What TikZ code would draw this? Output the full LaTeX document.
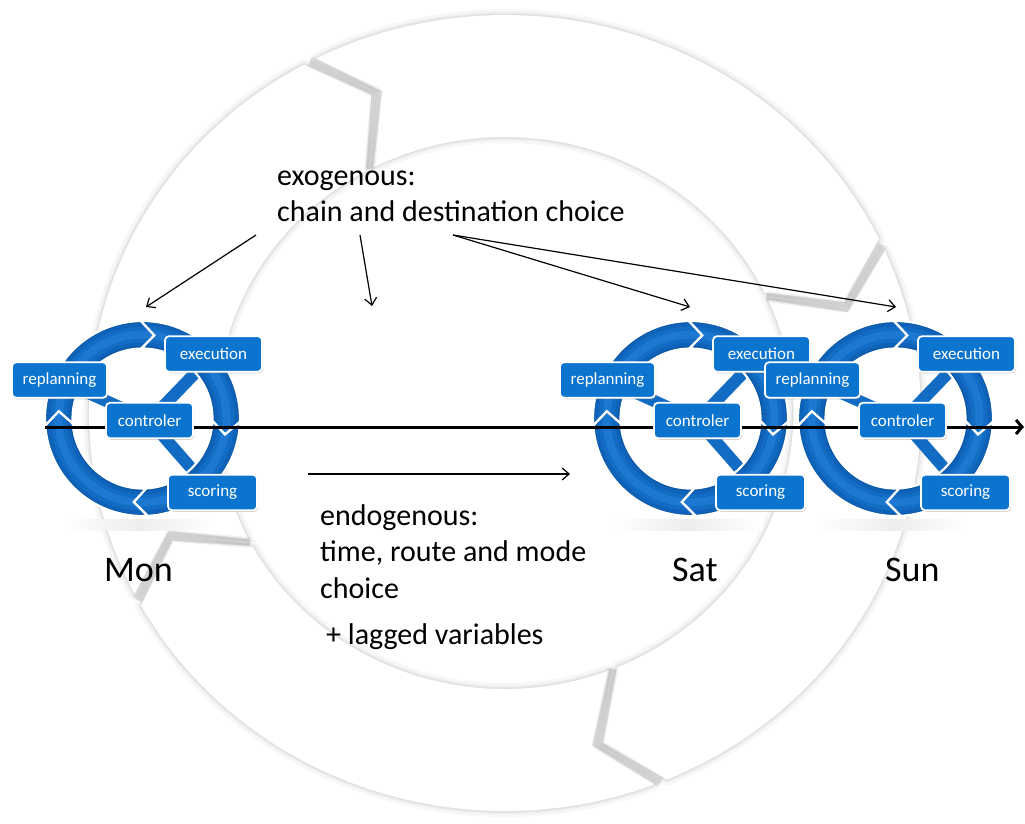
\documentclass[tikz,border=0pt]{standalone}
\usepackage{fontspec}
\setmainfont{Carlito}
\usetikzlibrary{arrows.meta,shadows}
\pgfdeclarelayer{back}
\pgfdeclarelayer{mid}
\pgfdeclarelayer{axis}
\pgfsetlayers{back,mid,axis,main}
\definecolor{rdark}{RGB}{10,86,166}
\definecolor{rmid1}{RGB}{14,98,184}
\definecolor{rmid}{RGB}{18,108,196}
\definecolor{rlight}{RGB}{28,120,208}
\definecolor{boxblue}{RGB}{10,116,206}

% big background ring segment: style, tail angle, head angle
\newcommand{\bigseg}[3]{%
  \path[#1] ({#2-0.9}:398) arc[start angle={#2-0.9}, end angle={#3+0.9}, radius=398]
    -- ({#3+0.9-7}:343) -- ({#3+0.9}:276)
    arc[start angle={#3+0.9}, end angle={#2-0.9}, radius=276]
    -- ({#2-0.9-7}:343) -- cycle;}
% gap line between two big segments at boundary angle
\newcommand{\biggap}[2]{%
  \path[#1] ({#2}:398) -- ({#2-7}:343) -- ({#2}:276);}

% blue ring segment: tail angle, head angle
\newcommand{\blueseg}[2]{%
  \begin{scope}
    \clip ({#1}:97.5) arc[start angle={#1}, end angle={#2}, radius=97.5]
      -- ({#2-9}:84) -- ({#2}:70) arc[start angle={#2}, end angle={#1}, radius=70]
      -- ({#1-9}:84) -- cycle;
    \fill[rdark] (0,0) circle (99);
    \draw[rmid1, line width=23pt] (0,0) circle (84);
    \draw[rmid, line width=16pt] (0,0) circle (84);
    \draw[rlight, line width=8pt] (0,0) circle (84);
  \end{scope}
  \draw[white, line width=2.2pt] ({#1}:97.5) arc[start angle={#1}, end angle={#2}, radius=97.5]
      -- ({#2-9}:84) -- ({#2}:70) arc[start angle={#2}, end angle={#1}, radius=70]
      -- ({#1-9}:84) -- cycle;}

% one day cycle: prefix, ring centre x
\newcommand{\dayring}[2]{%
  \node[box, minimum width=95pt] (#1rep) at ({#2-83},380) {replanning};
  \node[box, minimum width=97pt] (#1exe) at ({#2+71},354) {execution};
  \node[box, minimum width=87pt] (#1ctl) at ({#2+7},420.5) {controler};
  \node[box, minimum width=89pt] (#1sco) at ({#2+70},492.5) {scoring};
  \begin{pgfonlayer}{mid}
    \shade[left color=white, right color=white, middle color=gray!14]
      ({#2-78},519) rectangle ({#2+72},530);
    \draw[bar] (#1ctl.center) -- (#1exe.center);
    \draw[bar] (#1ctl.center) -- (#1sco.center);
    \draw[bar] (#1ctl.center) -- (#1rep.center);
    \begin{scope}[shift={(#2,418.5)}, yscale=-1]
      \blueseg{91}{-2}\blueseg{-2}{-87}\blueseg{-87}{-176}\blueseg{184}{91}
    \end{scope}
  \end{pgfonlayer}}

\begin{document}
\begin{tikzpicture}[x=1pt,y=-1pt,
  box/.style={rounded corners=4pt, fill=boxblue, draw=white, line width=1.8pt,
    text=white, font=\fontsize{17}{20}\selectfont, minimum height=35.5pt, inner sep=0pt,
    drop shadow={shadow xshift=1.2pt, shadow yshift=-1.5pt, opacity=0.35}},
  bar/.style={line width=12pt, rmid},
  ptr/.style={line width=1.2pt, -{Straight Barb[length=7pt,width=12pt]}},
  lbl/.style={anchor=base west, inner sep=0pt, font=\fontsize{30}{36}\selectfont},
  day/.style={anchor=base west, inner sep=0pt, font=\fontsize{36}{43}\selectfont},
]
\useasboundingbox (0,0) rectangle (1025,824);

\begin{pgfonlayer}{back}
  \fill[white] (0,0) rectangle (1025,824);
  \begin{scope}[shift={(505,413)}, xscale=1.045, yscale=-1]
    \foreach \a/\b in {118/25, 25/-68, -68/-152, 208/118} {
      \bigseg{draw=black, draw opacity=0.03, line width=12pt, line join=round}{\a}{\b}
      \bigseg{draw=black, draw opacity=0.045, line width=6pt, line join=round}{\a}{\b}
      \bigseg{draw=black, draw opacity=0.05, line width=2.5pt, line join=round}{\a}{\b}
    }
    \foreach \a/\b in {118/25, 25/-68, -68/-152, 208/118} {
      \bigseg{fill=white}{\a}{\b}
    }
    \foreach \g in {118, 25, -68, -152} {
      \biggap{draw=black, draw opacity=0.06, line width=11pt, line join=round}{\g}
      \biggap{draw=black, draw opacity=0.07, line width=6pt, line join=round}{\g}
    }
  \end{scope}
\end{pgfonlayer}

\dayring{mon}{142.5}
\dayring{sat}{690.5}
\dayring{sun}{895.5}

\coordinate (axS) at (45,427);
\coordinate (axE) at (1024,427);
\begin{pgfonlayer}{axis}
  \draw[line width=3pt, -{Straight Barb[length=6pt,width=14pt]}] (axS) -- (axE);
\end{pgfonlayer}

\node[lbl] (exo1) at (277,185) {exogenous:};
\node[lbl] (exo2) at (277,221) {chain and destination choice};
\node[lbl] (endo1) at (320,525) {endogenous:};
\node[lbl] (endo2) at (320,561) {time, route and mode};
\node[lbl] (endo3) at (320,598) {choice};
\node[lbl] (lag) at (326,644) {+ lagged variables};

\node[day] (mon) at (104,581) {Mon};
\node[day] (sat) at (672,581) {Sat};
\node[day] (sun) at (885,581) {Sun};

\coordinate (a1) at (256,235);
\coordinate (a2) at (360,235);
\coordinate (a3) at (453,235);
\coordinate (monT) at (146,307);
\coordinate (midT) at (372,306);
\coordinate (satT) at (690,307);
\coordinate (sunT) at (896,307);
\coordinate (n1) at (308,474);
\coordinate (n2) at (570,474);

\draw[ptr] (a1) -- (monT);
\draw[ptr] (a2) -- (midT);
\draw[ptr] (a3) -- (satT);
\draw[ptr] (a3) -- (sunT);
\draw[ptr] (n1) -- (n2);
\end{tikzpicture}
\end{document}
